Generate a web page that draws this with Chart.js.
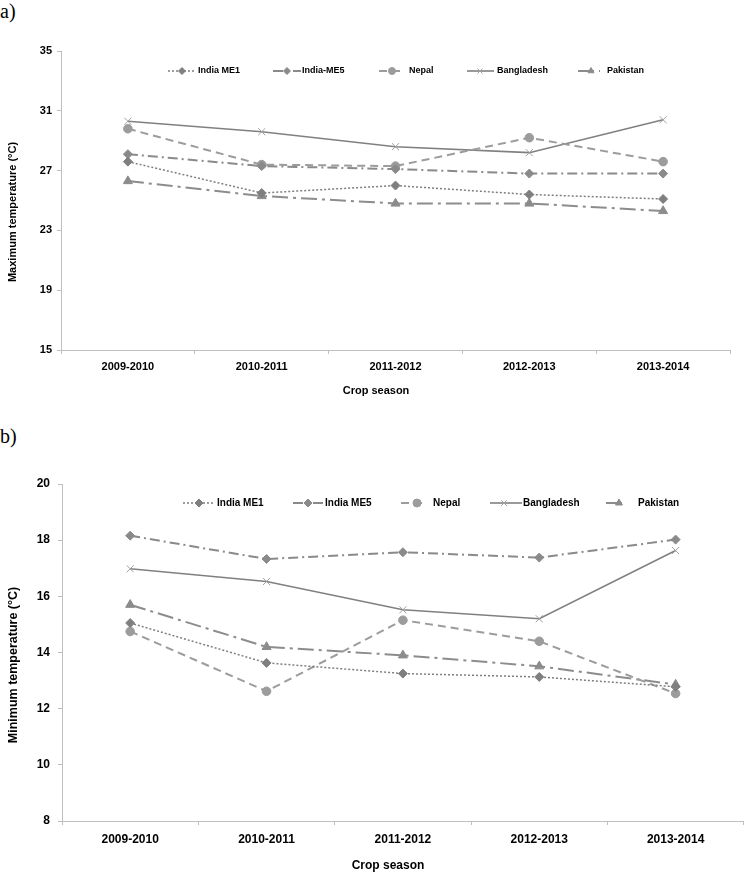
<!DOCTYPE html>
<html>
<head>
<meta charset="utf-8">
<script src="https://cdn.jsdelivr.net/npm/chart.js@4.4.0/dist/chart.umd.min.js"></script>
<style>
  body { margin: 0; background: #fff; }
  #page { position: relative; width: 750px; height: 876px; overflow: hidden; }
  .panel { position: absolute; left: 0; font-family: "Liberation Serif", serif; font-size: 20px; line-height: 20px; color: #000; }
  canvas { position: absolute; left: 0; }
</style>
</head>
<body>
<div id="page">
  <div class="panel" style="top:1px">a)</div>
  <canvas id="chartMax" width="750" height="400" style="top:0"></canvas>
  <div class="panel" style="top:426px">b)</div>
  <canvas id="chartMin" width="750" height="436" style="top:440px"></canvas>
</div>
<script>
// Crop seasons on the x axis
const seasons = ['2009-2010', '2010-2011', '2011-2012', '2012-2013', '2013-2014'];

// a) maximum temperature (°C)
const maxNames = ['India ME1', 'India-ME5', 'Nepal', 'Bangladesh', 'Pakistan'];
const maxIndiaME1 = [27.6, 25.5, 26.0, 25.4, 25.1];
const maxIndiaME5 = [28.1, 27.3, 27.1, 26.8, 26.8];
const maxNepal = [29.8, 27.4, 27.3, 29.2, 27.6];
const maxBangladesh = [30.3, 29.6, 28.6, 28.2, 30.4];
const maxPakistan = [26.3, 25.3, 24.8, 24.8, 24.3];
const maxTicks = [15, 19, 23, 27, 31, 35];

// b) minimum temperature (°C)
const minNames = ['India ME1', 'India ME5', 'Nepal', 'Bangladesh', 'Pakistan'];
const minIndiaME1 = [15.05, 13.63, 13.25, 13.13, 12.78];
const minIndiaME5 = [18.16, 17.33, 17.57, 17.38, 18.02];
const minNepal = [14.75, 12.62, 15.15, 14.4, 12.54];
const minBangladesh = [16.98, 16.53, 15.52, 15.2, 17.63];
const minPakistan = [15.7, 14.2, 13.9, 13.51, 12.86];
const minTicks = [8, 10, 12, 14, 16, 18, 20];

const axisGrey = '#bfbfbf';

// line looks per series, same order as the names
const looks = [
  { color: '#7f7f7f', dash: [2, 2], width: 1.5, point: 'rectRot', r: 4.5 },
  { color: '#8a8a8a', dash: [10, 4, 2, 4], width: 2, point: 'rectRot', r: 4.5 },
  { color: '#9c9c9c', dash: [8, 5], width: 2, point: 'circle', r: 4.3 },
  { color: '#808080', dash: [], width: 1.6, point: 'crossRot', r: 5 },
  { color: '#8c8c8c', dash: [16, 5, 3, 5], width: 2, point: 'triangle', r: 5.2 }
];

function makeDatasets(names, series) {
  return series.map(function(values, i) {
    const lk = looks[i];
    const markColor = lk.point === 'crossRot' ? '#a0a0a0' : lk.color;
    return {
      label: names[i],
      data: values,
      borderColor: lk.color,
      borderWidth: lk.width,
      borderDash: lk.dash,
      pointStyle: lk.point,
      pointRadius: lk.r,
      pointBackgroundColor: markColor,
      pointBorderColor: markColor,
      pointBorderWidth: 1,
      tension: 0,
      fill: false
    };
  });
}

// legend drawn as line sample + marker + bold label
const lineLegend = {
  id: 'lineLegend',
  afterDraw(chart, args, opts) {
    const ctx = chart.ctx;
    chart.data.datasets.forEach(function(ds, i) {
      const slot = opts.slots[i];
      const y = opts.y;
      ctx.save();
      ctx.strokeStyle = ds.borderColor;
      ctx.lineWidth = ds.borderWidth;
      ctx.setLineDash(ds.borderDash || []);
      ctx.beginPath();
      ctx.moveTo(slot[0], y);
      ctx.lineTo(slot[1], y);
      ctx.stroke();
      ctx.setLineDash([]);
      ctx.fillStyle = ds.pointBackgroundColor;
      ctx.strokeStyle = ds.pointBorderColor;
      ctx.lineWidth = 1;
      Chart.helpers.drawPoint(ctx, { pointStyle: ds.pointStyle, radius: opts.r, rotation: 0, borderWidth: 1 }, slot[2], y);
      ctx.fillStyle = '#000';
      ctx.font = opts.font;
      ctx.textBaseline = 'middle';
      ctx.textAlign = 'left';
      ctx.fillText(ds.label, slot[3], y);
      ctx.restore();
    });
  }
};

// axis titles, placed where the original figure has them
const axisTitles = {
  id: 'axisTitles',
  afterDraw(chart, args, opts) {
    const ctx = chart.ctx;
    ctx.save();
    ctx.fillStyle = '#000';
    ctx.textAlign = 'center';
    ctx.textBaseline = 'middle';
    ctx.font = opts.xFont;
    ctx.fillText(opts.xText, opts.xAt[0], opts.xAt[1]);
    ctx.translate(opts.yAt[0], opts.yAt[1]);
    ctx.rotate(-Math.PI / 2);
    ctx.font = opts.yFont;
    ctx.fillText(opts.yText, 0, 0);
    ctx.restore();
  }
};

function makeChart(id, cfg) {
  return new Chart(document.getElementById(id), {
    type: 'line',
    data: { labels: seasons, datasets: cfg.datasets },
    plugins: [lineLegend, axisTitles],
    options: {
      responsive: false,
      animation: false,
      devicePixelRatio: 1,
      layout: { padding: cfg.padding },
      plugins: {
        legend: { display: false },
        tooltip: { enabled: false },
        lineLegend: cfg.legend,
        axisTitles: cfg.titles
      },
      scales: {
        x: {
          type: 'category',
          offset: true,
          grid: { offset: true, drawOnChartArea: false, tickLength: 4, color: axisGrey },
          border: { color: axisGrey },
          ticks: { color: '#000', padding: cfg.xPad, maxRotation: 0, font: { family: 'Liberation Sans', weight: 'bold', size: cfg.fs } },
          afterFit: function(s) { s.height = cfg.xHeight; }
        },
        y: {
          min: cfg.ticks[0],
          max: cfg.ticks[cfg.ticks.length - 1],
          afterBuildTicks: function(s) { s.ticks = cfg.ticks.map(function(v) { return { value: v }; }); },
          grid: { drawOnChartArea: false, tickLength: 4, color: axisGrey },
          border: { color: axisGrey },
          ticks: { color: '#000', padding: cfg.yPad, font: { family: 'Liberation Sans', weight: 'bold', size: cfg.fs } },
          afterFit: function(s) { s.width = cfg.yWidth; }
        }
      }
    }
  });
}

makeChart('chartMax', {
  datasets: makeDatasets(maxNames, [maxIndiaME1, maxIndiaME5, maxNepal, maxBangladesh, maxPakistan]),
  ticks: maxTicks,
  padding: { top: 51, right: 20, bottom: 2, left: 0 },
  xHeight: 48, yWidth: 61, fs: 11, xPad: 6, yPad: 5,
  titles: {
    xText: 'Crop season', xAt: [376, 391], xFont: 'bold 11px "Liberation Sans"',
    yText: 'Maximum temperature (°C)', yAt: [13, 212], yFont: 'bold 11px "Liberation Sans"'
  },
  legend: {
    y: 71, r: 3.5, font: 'bold 9px "Liberation Sans"',
    slots: [[168, 194, 182, 198], [273, 301, 287, 302], [379, 401, 392, 409], [467, 494, 480, 497], [578, 600, 591, 607]]
  }
});

makeChart('chartMin', {
  datasets: makeDatasets(minNames, [minIndiaME1, minIndiaME5, minNepal, minBangladesh, minPakistan]),
  ticks: minTicks,
  padding: { top: 44, right: 1, bottom: 2, left: 0 },
  xHeight: 53, yWidth: 62, fs: 12, xPad: 7, yPad: 8,
  titles: {
    xText: 'Crop season', xAt: [388, 426], xFont: 'bold 12px "Liberation Sans"',
    yText: 'Minimum temperature (°C)', yAt: [14, 225], yFont: 'bold 12.5px "Liberation Sans"'
  },
  legend: {
    y: 63, r: 4, font: 'bold 10px "Liberation Sans"',
    slots: [[183, 213, 199, 217], [293, 323, 308, 325], [401, 424, 417, 433], [490, 522, 504, 523], [606, 627, 619, 638]]
  }
});
</script>
</body>
</html>
